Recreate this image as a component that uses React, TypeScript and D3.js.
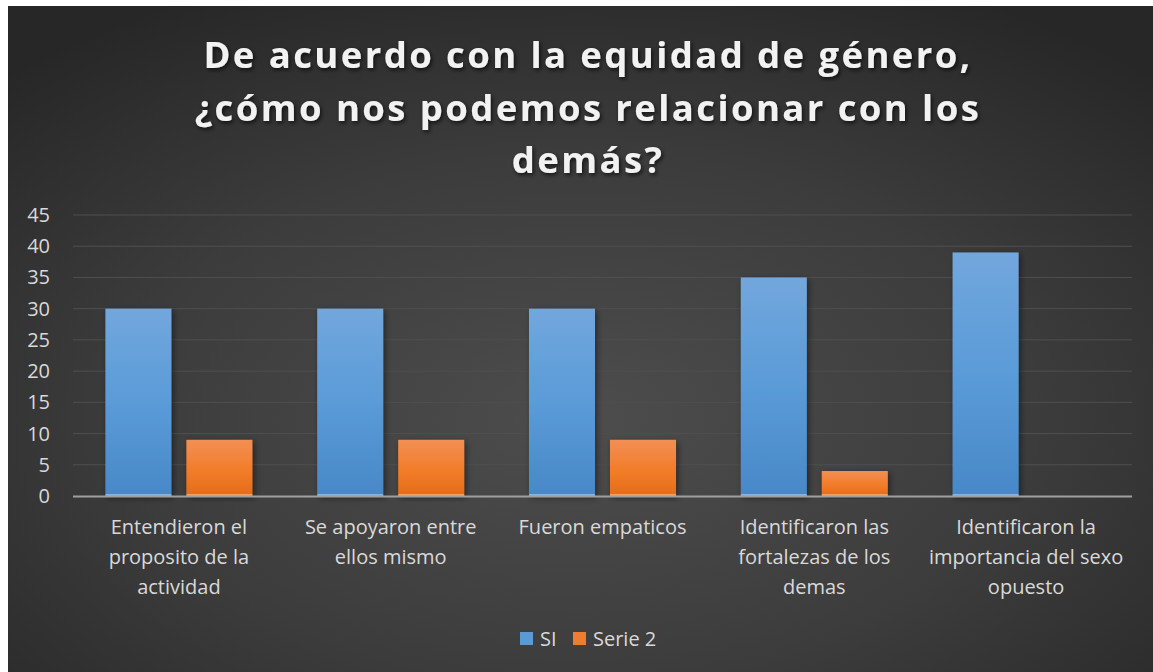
import React from "react";
import * as d3 from "d3";

const categories: string[][] = [
  ["Entendieron el", "proposito de la", "actividad"],
  ["Se apoyaron entre", "ellos mismo"],
  ["Fueron empaticos"],
  ["Identificaron las", "fortalezas de los", "demas"],
  ["Identificaron la", "importancia del sexo", "opuesto"],
];
const seriesNames = ["SI", "Serie 2"];
const siValues = [30, 30, 30, 35, 39];
const serie2Values = [9, 9, 9, 4, 0];
const yTicks = [0, 5, 10, 15, 20, 25, 30, 35, 40, 45];
const titleLines = [
  "De acuerdo con la equidad de género,",
  "¿cómo nos podemos relacionar con los",
  "demás?",
];

const W = 1153;
const H = 672;
const plot = { left: 73, right: 1132, top: 215, bottom: 496 };
const FONT = "'Open Sans', 'Noto Sans', sans-serif";

export default function App() {
  const x0 = d3
    .scaleBand<number>()
    .domain(categories.map((_, i) => i))
    .range([plot.left, plot.right])
    .padding(0);
  const x1 = d3
    .scaleBand<string>()
    .domain(seriesNames)
    .range([0, x0.bandwidth()])
    .paddingInner(0.185)
    .paddingOuter(0.4);
  const y = d3.scaleLinear().domain([0, 45]).range([plot.bottom, plot.top]);
  const seriesData = [siValues, serie2Values];
  const fills = ["url(#gBlue)", "url(#gOrange)"];
  const legendColors = ["#5b9bd5", "#ed7d31"];

  return (
    <svg
      width={W}
      height={H}
      style={{ position: "absolute", left: 0, top: 0, display: "block" }}
    >
      <defs>
        <radialGradient id="bg" cx="0.5" cy="0.62" r="0.72">
          <stop offset="0" stopColor="#4d4d4d" />
          <stop offset="0.55" stopColor="#3c3c3c" />
          <stop offset="1" stopColor="#272727" />
        </radialGradient>
        <linearGradient id="gBlue" x1="0" y1="0" x2="0" y2="1">
          <stop offset="0" stopColor="#72a7dd" />
          <stop offset="0.5" stopColor="#5a9bd8" />
          <stop offset="1" stopColor="#4888c8" />
        </linearGradient>
        <linearGradient id="gOrange" x1="0" y1="0" x2="0" y2="1">
          <stop offset="0" stopColor="#f28f55" />
          <stop offset="0.5" stopColor="#f37e2c" />
          <stop offset="1" stopColor="#e56c17" />
        </linearGradient>
        <filter id="barShadow" x="-20%" y="-10%" width="140%" height="120%">
          <feDropShadow dx="2" dy="2" stdDeviation="3" floodColor="#000" floodOpacity="0.45" />
        </filter>
        <filter id="textShadow" x="-10%" y="-30%" width="120%" height="160%">
          <feDropShadow dx="1.5" dy="2" stdDeviation="2" floodColor="#000" floodOpacity="0.7" />
        </filter>
      </defs>
      <rect x={0} y={0} width={W} height={H} fill="#ffffff" />
      <rect x={8} y={6} width={W - 8} height={H - 6} fill="url(#bg)" />

      {/* title */}
      <g filter="url(#textShadow)">
        {titleLines.map((t, i) => (
          <text
            key={i}
            x={588}
            y={68 + i * 52.5}
            textAnchor="middle"
            fill="#f2f2f2"
            fontFamily={FONT}
            fontWeight={700}
            fontSize={36.5}
            letterSpacing={2.4}
          >
            {t}
          </text>
        ))}
      </g>

      {/* gridlines */}
      {yTicks
        .filter((v) => v > 0)
        .map((v) => (
          <line
            key={v}
            x1={plot.left}
            x2={plot.right}
            y1={y(v)}
            y2={y(v)}
            stroke="#4f4f4f"
            strokeWidth={1}
          />
        ))}

      {/* y labels */}
      {yTicks.map((v) => (
        <text
          key={v}
          x={50}
          y={y(v) + 7}
          textAnchor="end"
          fill="#d9d9d9"
          fontFamily={FONT}
          fontSize={20}
        >
          {v}
        </text>
      ))}

      {/* bars */}
      {categories.map((_, ci) => (
        <g key={ci} transform={`translate(${x0(ci)},0)`}>
          {seriesNames.map((s, si) => {
            const v = seriesData[si][ci];
            if (v <= 0) return null;
            return (
              <g key={s}>
                <rect
                  x={x1(s)}
                  y={y(v)}
                  width={x1.bandwidth()}
                  height={y(0) - y(v)}
                  fill={fills[si]}
                  filter="url(#barShadow)"
                />
                <rect
                  x={x1(s)}
                  y={y(0) - 2}
                  width={x1.bandwidth()}
                  height={2}
                  fill="#ffffff"
                  opacity={0.35}
                />
              </g>
            );
          })}
        </g>
      ))}

      {/* axis line */}
      <line
        x1={plot.left}
        x2={plot.right}
        y1={y(0) + 0.5}
        y2={y(0) + 0.5}
        stroke="#a0a0a0"
        strokeWidth={2}
      />

      {/* x labels */}
      {categories.map((lines, ci) => (
        <text
          key={ci}
          textAnchor="middle"
          fill="#d9d9d9"
          fontFamily={FONT}
          fontSize={20}
        >
          {lines.map((l, li) => (
            <tspan key={li} x={(x0(ci) as number) + x0.bandwidth() / 2} y={534 + li * 30}>
              {l}
            </tspan>
          ))}
        </text>
      ))}

      {/* legend */}
      {seriesNames.map((s, i) => {
        const lx = [520, 573][i];
        return (
          <g key={s}>
            <rect x={lx} y={632} width={13} height={13} fill={legendColors[i]} />
            <text
              x={lx + 20}
              y={646}
              fill="#d9d9d9"
              fontFamily={FONT}
              fontSize={20}
            >
              {s}
            </text>
          </g>
        );
      })}
    </svg>
  );
}
